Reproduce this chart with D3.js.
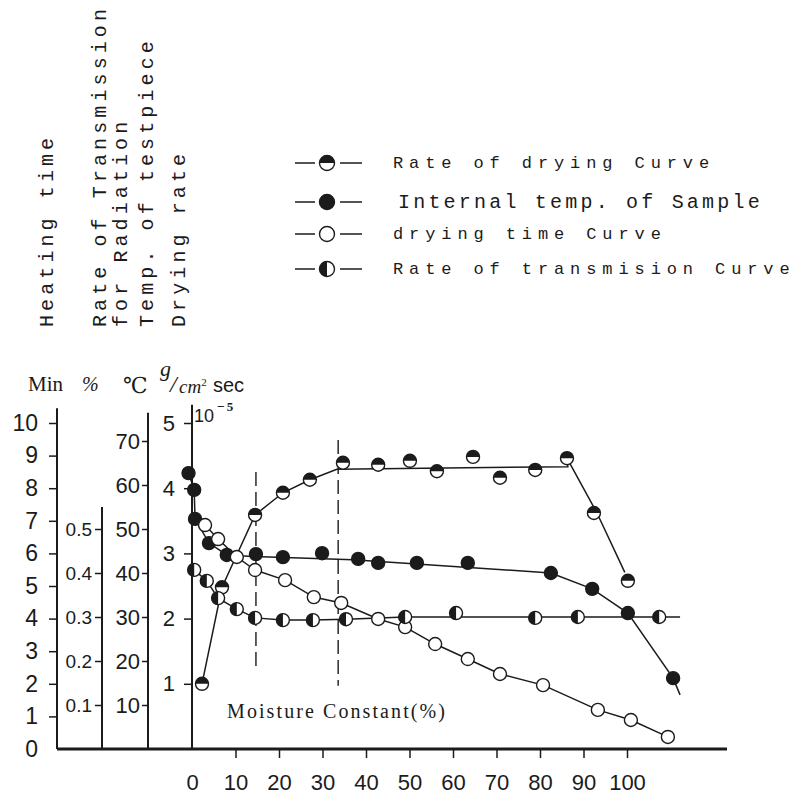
<!DOCTYPE html>
<html>
<head>
<meta charset="utf-8">
<script src="https://cdn.jsdelivr.net/npm/d3@7"></script>
<style>
  body { margin: 0; background: #fff; }
  svg { display: block; }
</style>
</head>
<body>
<svg id="chart"></svg>
<script>
// Values, x = moisture constant (%)

// Rate of drying (g/cm2 sec, x 10^-5)
const dryingRatePoints = [[2.3, 1.0], [6.9, 2.48], [14.5, 3.59], [20.9, 3.93], [27.1, 4.13], [34.7, 4.39],
    [42.8, 4.36], [50.1, 4.42], [56.3, 4.26], [64.6, 4.48], [70.8, 4.16], [78.9, 4.28], [86.2, 4.46],
    [92.4, 3.62], [100.2, 2.58]];
const dryingRateCurve = [[2.3, 1.0], [6.9, 2.48], [14.5, 3.59], [20.9, 3.93], [27.1, 4.13], [33.3, 4.29],
    [86.4, 4.33], [86.2, 4.46], [93.1, 3.62], [99.5, 2.71]];

// Internal temp. of sample (deg C)
const tempPoints = [[-0.8, 62.7], [0.5, 58.9], [0.7, 52.3], [3.9, 46.8], [8.0, 44.1], [14.7, 44.3],
    [20.9, 43.6], [29.9, 44.5], [38.2, 43.2], [42.8, 42.3], [51.7, 42.3], [63.4, 42.3], [82.5, 40.0],
    [92.0, 36.4], [100.2, 30.9], [110.6, 16.1]];
const tempCurve = [[-0.8, 62.7], [0.5, 58.9], [0.7, 52.3], [3.9, 46.8], [8.0, 44.1], [10.3, 43.9],
    [37.0, 43.0], [66.2, 41.1], [82.5, 40.0], [92.0, 36.4], [100.2, 30.9], [110.6, 16.1], [112.2, 12.3]];

// Drying time (min)
const timePoints = [[3.0, 6.87], [6.0, 6.44], [10.3, 5.89], [14.5, 5.49], [21.4, 5.18], [28.0, 4.66],
    [34.3, 4.48], [42.8, 3.99], [49.0, 3.74], [55.9, 3.22], [63.4, 2.76], [70.8, 2.30], [80.7, 1.96],
    [93.3, 1.20], [100.9, 0.89], [109.4, 0.37]];
const timeCurve = [[0.7, 7.06]].concat(timePoints);

// Rate of transmission (%)
const transPoints = [[0.5, 0.407], [3.4, 0.382], [6.0, 0.343], [10.3, 0.318], [14.5, 0.298], [20.9, 0.293],
    [27.8, 0.293], [35.4, 0.295], [49.0, 0.300], [60.7, 0.309], [78.9, 0.298], [88.7, 0.300], [107.4, 0.300]];
const transCurve = [[0.5, 0.407], [3.4, 0.382], [6.0, 0.343], [10.3, 0.318], [14.5, 0.298], [20.9, 0.293],
    [27.8, 0.293], [35.4, 0.295], [49.0, 0.300], [112.2, 0.300]];

// period boundaries (dashed), drawn in drying-rate units
const periodLines = [[14.7, 1.27, 4.25], [33.6, 0.97, 4.74]];

// tick values
const timeTicks = [0, 1, 2, 3, 4, 5, 6, 7, 8, 9, 10];
const transTicks = [0.1, 0.2, 0.3, 0.4, 0.5];
const tempTicks = [10, 20, 30, 40, 50, 60, 70];
const rateTicks = [1, 2, 3, 4, 5];
const moistureTicks = [0, 10, 20, 30, 40, 50, 60, 70, 80, 90, 100];

// text
const axisTitles = ["Heating time", "Rate of Transmission", "for Radiation", "Temp. of testpiece", "Drying rate"];
const legendLabels = ["Rate of drying Curve", "Internal temp. of Sample", "drying time Curve", "Rate of transmision Curve"];
const legendKinds = ["top", "full", "open", "left"];

/*
 * layout
 */
const dims = {
    width: 801,
    height: 796,
    baseY: 749,
    baseLeft: 57,
    baseRight: 727
};
const ink = "#1b1b1b";
const mono = "'Liberation Mono', 'DejaVu Sans Mono', monospace";
const sans = "'Liberation Sans Narrow', 'Liberation Sans', Arial, sans-serif";
const serif = "'Liberation Serif', 'DejaVu Serif', serif";

const svg = d3.select("#chart")
    .attr("width", dims.width)
    .attr("height", dims.height);

// scales
const x = d3.scaleLinear().domain([0, 100]).range([192, 627]);
const yRate = d3.scaleLinear().domain([0, 5]).range([dims.baseY, 423]);
const yTime = d3.scaleLinear().domain([0, 10]).range([dims.baseY, 423]);
const yTemp = d3.scaleLinear().domain([0, 70]).range([dims.baseY, 441]);
const yTrans = d3.scaleLinear().domain([0, 0.5]).range([dims.baseY, 529]);

// draws a marker of the given kind into g (centered at 0,0)
function marker(g, kind, r) {
    g.append("circle")
        .attr("r", r)
        .attr("fill", kind === "full" ? ink : "#fff")
        .attr("stroke", ink)
        .attr("stroke-width", 1.4);
    if (kind === "top") {
        g.append("path").attr("d", `M${-r},0A${r},${r} 0 0 1 ${r},0Z`).attr("fill", ink);
    }
    if (kind === "left") {
        g.append("path").attr("d", `M0,${-r}A${r},${r} 0 0 0 0,${r}Z`).attr("fill", ink);
    }
}

// left axes: scale, ticks, x position, top value, tick size, padding, font size, format
const leftAxes = [
    { scale: yTime, ticks: timeTicks, at: 57, top: 10.45, size: 8, pad: 11, font: 23, fmt: d3.format("d") },
    { scale: yTrans, ticks: transTicks, at: 102, top: 0.55, size: 7, pad: 3, font: 19, fmt: d3.format(".1f") },
    { scale: yTemp, ticks: tempTicks, at: 148, top: 76.4, size: 6, pad: 2, font: 22, fmt: d3.format("d") },
    { scale: yRate, ticks: rateTicks, at: 192, top: 5.28, size: 8, pad: 9, font: 22, fmt: d3.format("d") }
];

leftAxes.forEach(a => {
    const g = svg.append("g")
        .attr("transform", `translate(${a.at},0)`)
        .call(d3.axisLeft(a.scale).tickValues(a.ticks).tickSize(a.size).tickPadding(a.pad).tickFormat(a.fmt));
    g.select(".domain").remove();
    g.selectAll(".tick line").attr("stroke", ink).attr("stroke-width", 1.5)
        .filter(d => d === 0).remove();
    g.selectAll(".tick text").attr("fill", ink).style("font-family", sans).style("font-size", a.font + "px");
    g.append("line")
        .attr("y1", a.scale(0)).attr("y2", a.scale(a.top))
        .attr("stroke", ink).attr("stroke-width", 2);
});

// base line
svg.append("line")
    .attr("x1", dims.baseLeft).attr("x2", dims.baseRight)
    .attr("y1", dims.baseY).attr("y2", dims.baseY)
    .attr("stroke", ink).attr("stroke-width", 3);

// moisture axis
const xg = svg.append("g")
    .attr("transform", `translate(0,${dims.baseY})`)
    .call(d3.axisBottom(x).tickValues(moistureTicks).tickSize(9).tickPadding(16));
xg.select(".domain").remove();
xg.selectAll(".tick line").attr("stroke", ink).attr("stroke-width", 1.5).filter(d => d === 0).remove();
xg.selectAll(".tick text").attr("fill", ink).style("font-family", sans).style("font-size", "22px");

// period boundaries
svg.selectAll(".period")
    .data(periodLines)
    .join("line")
    .attr("x1", d => x(d[0])).attr("x2", d => x(d[0]))
    .attr("y1", d => yRate(d[2])).attr("y2", d => yRate(d[1]))
    .attr("stroke", ink).attr("stroke-width", 1.4)
    .attr("stroke-dasharray", "14,6");

// curves and points
const series = [
    { points: dryingRatePoints, curve: dryingRateCurve, y: yRate, kind: "top" },
    { points: tempPoints, curve: tempCurve, y: yTemp, kind: "full" },
    { points: timePoints, curve: timeCurve, y: yTime, kind: "open" },
    { points: transPoints, curve: transCurve, y: yTrans, kind: "left" }
];

series.forEach(s => {
    const line = d3.line().x(d => x(d[0])).y(d => s.y(d[1]));
    svg.append("path")
        .datum(s.curve)
        .attr("fill", "none")
        .attr("stroke", ink)
        .attr("stroke-width", 1.5)
        .attr("d", line);
});

series.forEach(s => {
    svg.append("g").selectAll("g")
        .data(s.points)
        .join("g")
        .attr("transform", d => `translate(${x(d[0])},${s.y(d[1])})`)
        .each(function () { marker(d3.select(this), s.kind, 6.5); });
});

// 10^-5 multiplier
const mult = svg.append("text")
    .attr("x", 194).attr("y", 422)
    .attr("fill", ink)
    .style("font-family", sans).style("font-size", "18px")
    .text("10");
mult.append("tspan").attr("dx", 3).attr("dy", -11).style("font-size", "13px").text("\u2212");
mult.append("tspan").attr("dx", 2).style("font-size", "13px").style("font-weight", "bold")
    .style("font-family", serif).text("5");

// units row
const units = svg.append("g").attr("fill", ink);
units.append("text").attr("x", 28).attr("y", 391).style("font-family", serif).style("font-size", "21px").text("Min");
units.append("text").attr("x", 82).attr("y", 391).style("font-family", serif).style("font-style", "italic")
    .style("font-size", "20px").text("%");
units.append("text").attr("x", 123).attr("y", 393).style("font-family", serif).style("font-size", "22px").text("\u2103");
units.append("text").attr("x", 160).attr("y", 376).style("font-family", serif).style("font-style", "italic")
    .style("font-size", "22px").text("g");
units.append("text").attr("x", 170).attr("y", 392).style("font-family", serif).style("font-style", "italic")
    .style("font-size", "24px").text("/");
units.append("text").attr("x", 179).attr("y", 393).style("font-family", serif).style("font-style", "italic")
    .style("font-size", "19px").text("cm")
    .append("tspan").attr("dy", -7).style("font-size", "11px").style("font-style", "normal").text("2");
units.append("text").attr("x", 213).attr("y", 392).style("font-family", sans).style("font-size", "20px").text("sec");

// vertical axis titles (typewriter), baseline x positions
const titleX = [53, 106, 127, 153, 185];
svg.selectAll(".atitle")
    .data(axisTitles)
    .join("text")
    .attr("transform", (d, i) => `translate(${titleX[i]},327) rotate(-90)`)
    .attr("fill", ink)
    .style("font-family", mono)
    .style("font-size", "20px")
    .style("letter-spacing", "4.1px")
    .text(d => d);

// x axis caption
svg.append("text")
    .attr("x", 227).attr("y", 718)
    .attr("fill", ink)
    .attr("textLength", 218)
    .style("font-family", serif).style("font-size", "20px")
    .text("Moisture Constant(%)");

// legend
const legendY = [163, 202, 234, 269];
const legend = svg.append("g").selectAll("g")
    .data(legendLabels)
    .join("g")
    .attr("transform", (d, i) => `translate(327,${legendY[i]})`);
legend.append("line").attr("x1", -32).attr("x2", -12).attr("stroke", ink).attr("stroke-width", 1.5);
legend.append("line").attr("x1", 13).attr("x2", 35).attr("stroke", ink).attr("stroke-width", 1.5);
legend.each(function (d, i) { marker(d3.select(this), legendKinds[i], 7.5); });
legend.append("text")
    .attr("x", (d, i) => i === 1 ? 71 : 66)
    .attr("y", (d, i) => i === 1 ? 6 : 5)
    .attr("fill", ink)
    .style("font-family", mono)
    .style("font-size", (d, i) => i === 1 ? "20px" : "17px")
    .style("letter-spacing", (d, i) => i === 1 ? "3.2px" : "5.9px")
    .text(d => d);
</script>
</body>
</html>
